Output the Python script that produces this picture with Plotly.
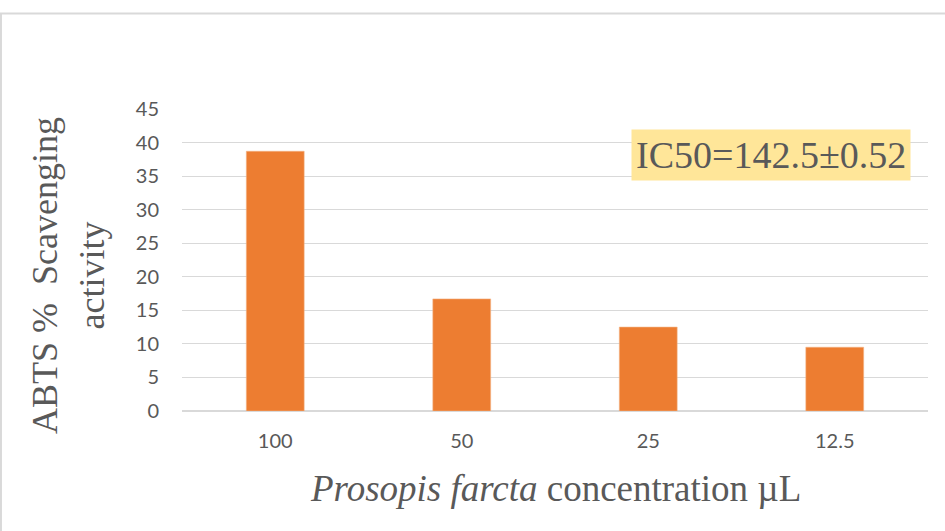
import plotly.graph_objects as go

# ABTS radical scavenging of Prosopis farcta extract
concentrations = ["100", "50", "25", "12.5"]
scavenging = [38.7, 16.7, 12.5, 9.5]
y_ticks = [0, 5, 10, 15, 20, 25, 30, 35, 40, 45]
ic50_label = "IC50=142.5±0.52"

TEXT = "#595959"
GRID = "#D9D9D9"
BAR = "#ED7D31"
SERIF = "Liberation Serif"
SANS = "Lato"

fig = go.Figure(
    go.Bar(
        x=concentrations,
        y=scavenging,
        marker=dict(color=BAR, line=dict(color="#F4B183", width=0.6)),
        width=0.31,
    )
)

fig.update_layout(
    width=945,
    height=531,
    margin=dict(l=182, r=17, t=109, b=120),
    paper_bgcolor="white",
    plot_bgcolor="white",
    showlegend=False,
    font=dict(family=SANS, color=TEXT),
)

fig.update_xaxes(
    type="category",
    showgrid=False,
    showline=False,
    zeroline=False,
    ticks="",
    tickfont=dict(family=SANS, size=20, color=TEXT),
    ticklabelstandoff=16,
)

fig.update_yaxes(
    range=[0, 45],
    tickvals=y_ticks,
    showgrid=True,
    gridcolor=GRID,
    gridwidth=1.3,
    zeroline=True,
    zerolinecolor=GRID,
    zerolinewidth=1.5,
    showline=False,
    ticks="",
    tickfont=dict(family=SANS, size=20, color=TEXT),
    ticklabelstandoff=22,
)

# outer chart frame
fig.add_shape(
    type="rect", xref="paper", yref="paper",
    x0=-0.2427, x1=1.05, y0=-0.45, y1=1.316,
    line=dict(color=GRID, width=2), fillcolor="rgba(0,0,0,0)", layer="below",
)

# axis titles
fig.add_annotation(
    xref="paper", yref="paper", x=-0.152, y=0.449,
    xanchor="center", yanchor="middle",
    text="ABTS %  Scavenging<br>activity", textangle=-90, showarrow=False,
    font=dict(family=SERIF, size=36, color=TEXT),
)
fig.add_annotation(
    xref="paper", yref="paper", x=0.5, y=-0.256,
    xanchor="center", yanchor="middle",
    text="<i>Prosopis farcta</i> concentration µL", showarrow=False,
    font=dict(family=SERIF, size=37, color=TEXT),
)

# IC50 callout
fig.add_annotation(
    xref="paper", yref="paper", x=0.789, y=0.847,
    xanchor="center", yanchor="middle",
    text=ic50_label, showarrow=False,
    bgcolor="#FFE699", borderpad=4,
    font=dict(family=SERIF, size=38, color=TEXT),
)

fig.write_html("out.html")
